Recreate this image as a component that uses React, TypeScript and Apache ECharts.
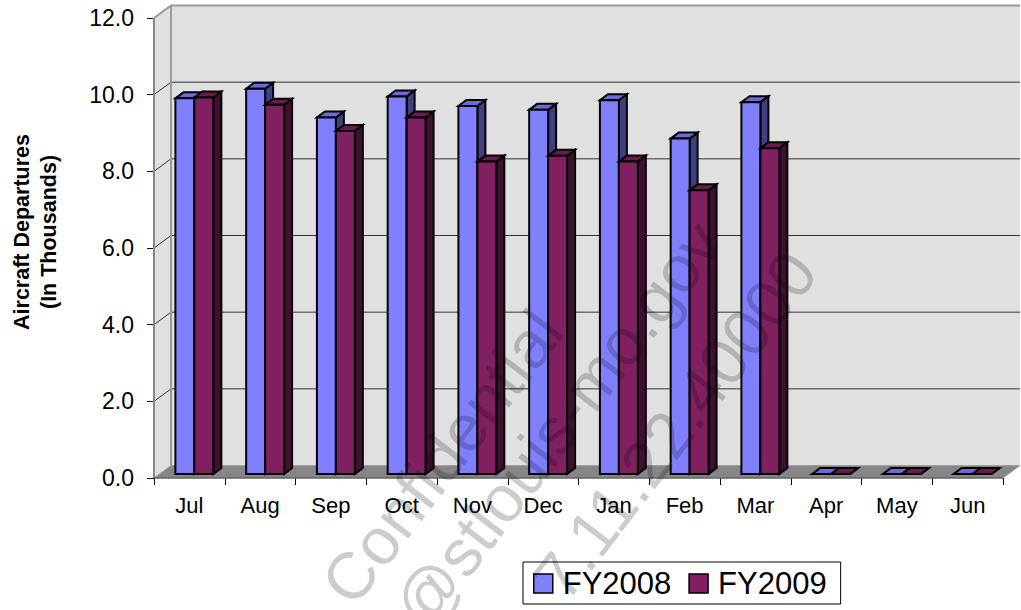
import React, { useEffect, useRef } from "react";
import * as echarts from "echarts";

const months = ["Jul", "Aug", "Sep", "Oct", "Nov", "Dec", "Jan", "Feb", "Mar", "Apr", "May", "Jun"];
const fy2008 = [9.8, 10.05, 9.3, 9.85, 9.6, 9.5, 9.75, 8.75, 9.7, 0, 0, 0];
const fy2009 = [9.82, 9.63, 8.95, 9.3, 8.15, 8.3, 8.15, 7.4, 8.5, 0, 0, 0];
const yTicks = [0, 2, 4, 6, 8, 10, 12];
const seriesNames = ["FY2008", "FY2009"];
const watermark = ["Confidential", "@stlouis-mo.gov", "7.11.22.40000"];

const FONT = "'Liberation Sans', Arial, sans-serif";
const DX = 17; // box depth
const DY = -12.5;
const BX = 5; // bar position in depth
const BY = -4;
const bdx = 8; // bar depth
const bdy = -6;

const colors = [
  { front: "#8080ff", top: "#6a6ad8", side: "#404080" },
  { front: "#802060", top: "#6a1a50", side: "#401030" },
];

function renderBox(params: any, api: any) {
  const band = api.size([1, 0])[0];
  const xa = api.coord([0, 0])[0] - band / 2;
  const xb = api.coord([months.length - 1, 0])[0] + band / 2;
  const y0 = api.coord([0, 0])[1];
  const yMax = yTicks[yTicks.length - 1];
  const yT = api.coord([0, yMax])[1];
  const children: any[] = [];
  children.push({
    type: "rect",
    shape: { x: xa + DX, y: yT + DY, width: xb - xa, height: y0 - yT },
    style: { fill: "#e0e0e0" },
  });
  children.push({
    type: "polygon",
    shape: { points: [[xa, y0], [xa, yT], [xa + DX, yT + DY], [xa + DX, y0 + DY]] },
    style: { fill: "#e0e0e0" },
  });
  yTicks.forEach((t) => {
    if (t === 0 || t === yMax) return;
    const y = api.coord([0, t])[1];
    children.push({
      type: "line",
      shape: { x1: xa + DX, y1: y + DY, x2: xb + DX, y2: y + DY },
      style: { stroke: "#333", lineWidth: 1 },
    });
    children.push({
      type: "line",
      shape: { x1: xa, y1: y, x2: xa + DX, y2: y + DY },
      style: { stroke: "#333", lineWidth: 1 },
    });
  });
  children.push({
    type: "polyline",
    shape: { points: [[xa, yT], [xa + DX, yT + DY], [xb + DX, yT + DY]] },
    style: { stroke: "#999", lineWidth: 2, fill: null },
  });
  children.push({
    type: "line",
    shape: { x1: xa + DX, y1: yT + DY, x2: xa + DX, y2: y0 + DY },
    style: { stroke: "#999", lineWidth: 2 },
  });
  children.push({
    type: "polygon",
    shape: { points: [[xa, y0], [xb, y0], [xb + DX, y0 + DY], [xa + DX, y0 + DY]] },
    style: { fill: "#868686", stroke: "#a0a0a0", lineWidth: 1 },
  });
  children.push({
    type: "line",
    shape: { x1: xa, y1: yT, x2: xa, y2: y0 },
    style: { stroke: "#888", lineWidth: 2 },
  });
  children.push({
    type: "line",
    shape: { x1: xa, y1: y0, x2: xb, y2: y0 },
    style: { stroke: "#444", lineWidth: 1 },
  });
  return { type: "group", children };
}

function makeBarRenderer(s: number) {
  return function (params: any, api: any) {
    const i = api.value(0);
    const v = api.value(1);
    const p0 = api.coord([i, 0]);
    const p1 = api.coord([i, v]);
    const band = api.size([1, 0])[0];
    const w = band * 0.268;
    const left = p0[0] + BX - w + s * w;
    const yt = p1[1] + BY;
    const yb = p0[1] + BY;
    const c = colors[s];
    const stroke = { stroke: "#000", lineWidth: 2, lineJoin: "miter" };
    return {
      type: "group",
      children: [
        {
          type: "polygon",
          shape: { points: [[left + w, yt], [left + w + bdx, yt + bdy], [left + w + bdx, yb + bdy], [left + w, yb]] },
          style: { fill: c.side, ...stroke },
        },
        {
          type: "polygon",
          shape: { points: [[left, yt], [left + w, yt], [left + w + bdx, yt + bdy], [left + bdx, yt + bdy]] },
          style: { fill: c.top, ...stroke },
        },
        {
          type: "rect",
          shape: { x: left, y: yt, width: w, height: yb - yt },
          style: { fill: c.front, ...stroke },
        },
      ],
    };
  };
}

export default function App() {
  const ref = useRef<HTMLDivElement>(null);
  useEffect(() => {
    if (!ref.current) return;
    const chart = echarts.init(ref.current, undefined, { renderer: "svg" });
    const seriesData = [fy2008, fy2009];
    const wmCenters = [
      [442, 457],
      [558, 425],
      [675, 425],
    ];
    chart.setOption({
      animation: false,
      backgroundColor: "#fff",
      textStyle: { fontFamily: FONT },
      grid: { left: 154, right: 18, top: 18, bottom: 132, containLabel: false },
      xAxis: {
        type: "category",
        data: months,
        boundaryGap: true,
        axisLine: { show: false },
        axisTick: { show: true, length: 7, lineStyle: { color: "#000", width: 1 } },
        axisLabel: { fontSize: 22, color: "#000", margin: 16, fontFamily: FONT },
        splitLine: { show: false },
      },
      yAxis: {
        type: "value",
        min: 0,
        max: 12,
        interval: 2,
        axisLine: { show: false },
        axisTick: { show: true, length: 7, lineStyle: { color: "#000", width: 1 } },
        axisLabel: {
          fontSize: 23,
          color: "#000",
          margin: 20,
          fontFamily: FONT,
          formatter: (v: number) => v.toFixed(1),
        },
        splitLine: { show: false },
        name: "Aircraft Departures\n(In Thousands)",
        nameLocation: "middle",
        nameRotate: 90,
        nameGap: 92,
        nameTextStyle: {
          fontSize: 21.5,
          fontWeight: "bold",
          color: "#000",
          lineHeight: 27,
          fontFamily: FONT,
          padding: [0, 0, 0, 32],
        },
      },
      legend: {
        left: 523,
        top: 562,
        orient: "horizontal",
        borderColor: "#000",
        borderWidth: 1,
        padding: [6, 14, 5, 10],
        itemWidth: 19,
        itemHeight: 19,
        itemGap: 17,
        textStyle: { fontSize: 31, color: "#000", fontFamily: FONT, padding: [0, 0, 0, 5] },
        data: seriesNames.map((n, k) => ({
          name: n,
          icon: "rect",
          itemStyle: { color: colors[k].front, borderColor: "#000", borderWidth: 1.5 },
        })),
      },
      series: [
        {
          type: "custom",
          name: "box",
          z: 1,
          silent: true,
          clip: false,
          data: [[0, 0]],
          renderItem: renderBox,
        },
        ...seriesNames.map((n, s) => ({
          type: "custom",
          name: n,
          z: 2,
          clip: false,
          itemStyle: { color: colors[s].front },
          data: months.map((m, i) => [i, seriesData[s][i]]),
          renderItem: makeBarRenderer(s),
        })),
      ],
      graphic: watermark.map((t, k) => ({
        type: "text",
        x: wmCenters[k][0],
        y: wmCenters[k][1],
        rotation: (52.5 * Math.PI) / 180,
        z: 100,
        silent: true,
        style: {
          text: t,
          fontSize: 66,
          fontFamily: FONT,
          fill: "rgba(0,0,0,0.2)",
          align: "center",
          verticalAlign: "middle",
        },
      })),
    });
    return () => chart.dispose();
  }, []);
  return (
    <div
      ref={ref}
      style={{ position: "fixed", left: 0, top: 0, width: 1021, height: 610 }}
    />
  );
}
